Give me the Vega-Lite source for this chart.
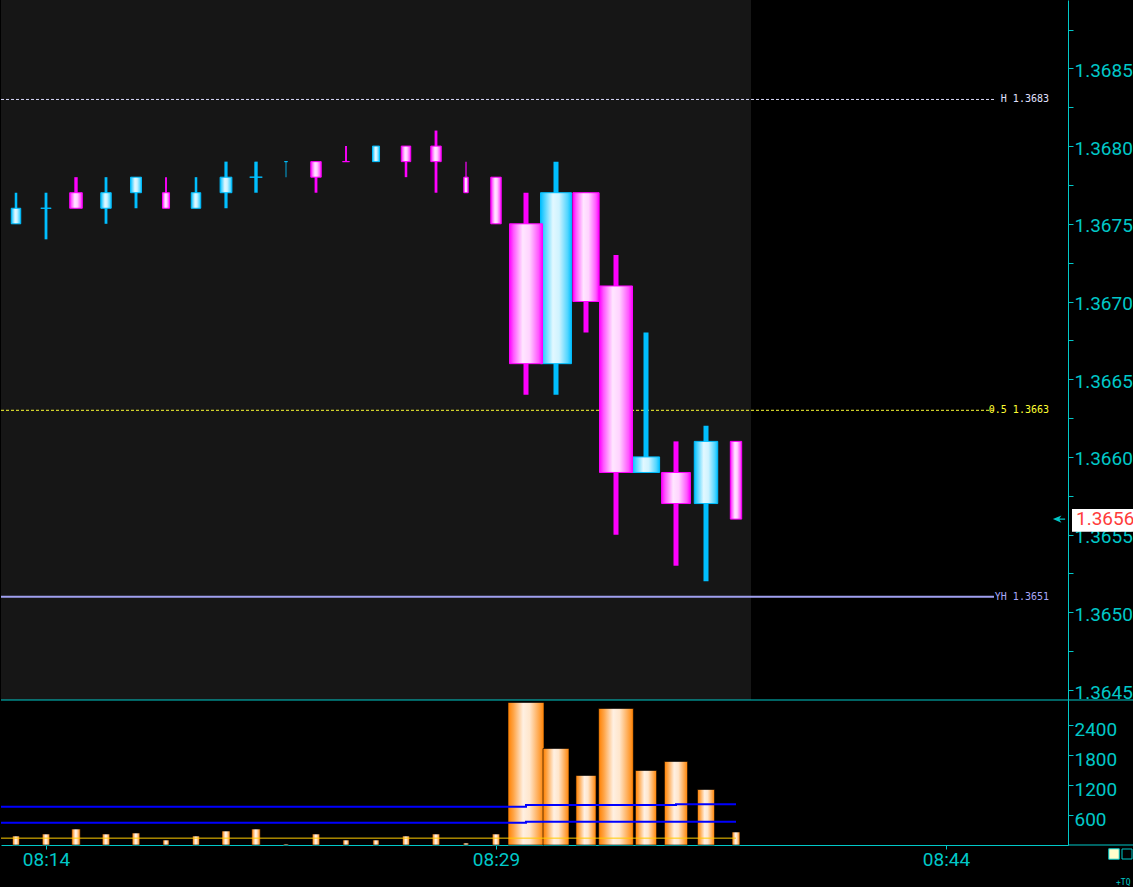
{
  "$schema": "https://vega.github.io/schema/vega-lite/v6.json",
  "background": "#000000",
  "padding": 0,
  "spacing": 0,
  "bounds": "flush",
  "config": {
    "view": {"stroke": null},
    "axis": {"domainColor": "#00c8c8", "tickColor": "#00c8c8", "labelColor": "#00c8c8", "labelFont": "Roboto", "labelFontSize": 19, "grid": false, "domainWidth": 1, "tickWidth": 1}
  },
  "resolve": {"scale": {"size": "independent"}},
  "datasets": {
    "candles": [
      {"t": "2024-01-02T08:13:00", "o": 1.3675, "h": 1.3677, "l": 1.3675, "c": 1.3676, "v": 180},
      {"t": "2024-01-02T08:14:00", "o": 1.3676, "h": 1.3677, "l": 1.3674, "c": 1.3676, "v": 220},
      {"t": "2024-01-02T08:15:00", "o": 1.3677, "h": 1.3678, "l": 1.3676, "c": 1.3676, "v": 320},
      {"t": "2024-01-02T08:16:00", "o": 1.3676, "h": 1.3678, "l": 1.3675, "c": 1.3677, "v": 220},
      {"t": "2024-01-02T08:17:00", "o": 1.3677, "h": 1.3678, "l": 1.3676, "c": 1.3678, "v": 240},
      {"t": "2024-01-02T08:18:00", "o": 1.3677, "h": 1.3678, "l": 1.3676, "c": 1.3676, "v": 100},
      {"t": "2024-01-02T08:19:00", "o": 1.3676, "h": 1.3678, "l": 1.3676, "c": 1.3677, "v": 180},
      {"t": "2024-01-02T08:20:00", "o": 1.3677, "h": 1.3679, "l": 1.3676, "c": 1.3678, "v": 280},
      {"t": "2024-01-02T08:21:00", "o": 1.3678, "h": 1.3679, "l": 1.3677, "c": 1.3678, "v": 320},
      {"t": "2024-01-02T08:22:00", "o": 1.3679, "h": 1.3679, "l": 1.3678, "c": 1.3679, "v": 20},
      {"t": "2024-01-02T08:23:00", "o": 1.3679, "h": 1.3679, "l": 1.3677, "c": 1.3678, "v": 220},
      {"t": "2024-01-02T08:24:00", "o": 1.3679, "h": 1.368, "l": 1.3679, "c": 1.3679, "v": 100},
      {"t": "2024-01-02T08:25:00", "o": 1.3679, "h": 1.368, "l": 1.3679, "c": 1.368, "v": 100},
      {"t": "2024-01-02T08:26:00", "o": 1.368, "h": 1.368, "l": 1.3678, "c": 1.3679, "v": 180},
      {"t": "2024-01-02T08:27:00", "o": 1.368, "h": 1.3681, "l": 1.3677, "c": 1.3679, "v": 220},
      {"t": "2024-01-02T08:28:00", "o": 1.3678, "h": 1.3679, "l": 1.3677, "c": 1.3677, "v": 40},
      {"t": "2024-01-02T08:29:00", "o": 1.3678, "h": 1.3678, "l": 1.3675, "c": 1.3675, "v": 220},
      {"t": "2024-01-02T08:30:00", "o": 1.3675, "h": 1.3677, "l": 1.3664, "c": 1.3666, "v": 2850},
      {"t": "2024-01-02T08:31:00", "o": 1.3666, "h": 1.3679, "l": 1.3664, "c": 1.3677, "v": 1930},
      {"t": "2024-01-02T08:32:00", "o": 1.3677, "h": 1.3677, "l": 1.3668, "c": 1.367, "v": 1390},
      {"t": "2024-01-02T08:33:00", "o": 1.3671, "h": 1.3673, "l": 1.3655, "c": 1.3659, "v": 2730},
      {"t": "2024-01-02T08:34:00", "o": 1.3659, "h": 1.3668, "l": 1.3659, "c": 1.366, "v": 1490},
      {"t": "2024-01-02T08:35:00", "o": 1.3659, "h": 1.3661, "l": 1.3653, "c": 1.3657, "v": 1670},
      {"t": "2024-01-02T08:36:00", "o": 1.3657, "h": 1.3662, "l": 1.3652, "c": 1.3661, "v": 1110},
      {"t": "2024-01-02T08:37:00", "o": 1.3661, "h": 1.3661, "l": 1.3656, "c": 1.3656, "v": 260}
    ],
    "ind": [
      {"t": "2024-01-02T08:12:00", "b1": 767, "b2": 447, "yl": 137},
      {"t": "2024-01-02T08:13:00", "b1": 767, "b2": 447, "yl": 137},
      {"t": "2024-01-02T08:14:00", "b1": 767, "b2": 447, "yl": 137},
      {"t": "2024-01-02T08:15:00", "b1": 767, "b2": 447, "yl": 137},
      {"t": "2024-01-02T08:16:00", "b1": 767, "b2": 447, "yl": 137},
      {"t": "2024-01-02T08:17:00", "b1": 767, "b2": 447, "yl": 137},
      {"t": "2024-01-02T08:18:00", "b1": 767, "b2": 447, "yl": 137},
      {"t": "2024-01-02T08:19:00", "b1": 767, "b2": 447, "yl": 137},
      {"t": "2024-01-02T08:20:00", "b1": 767, "b2": 447, "yl": 137},
      {"t": "2024-01-02T08:21:00", "b1": 767, "b2": 447, "yl": 137},
      {"t": "2024-01-02T08:22:00", "b1": 767, "b2": 447, "yl": 137},
      {"t": "2024-01-02T08:23:00", "b1": 767, "b2": 447, "yl": 137},
      {"t": "2024-01-02T08:24:00", "b1": 767, "b2": 447, "yl": 137},
      {"t": "2024-01-02T08:25:00", "b1": 767, "b2": 447, "yl": 137},
      {"t": "2024-01-02T08:26:00", "b1": 767, "b2": 447, "yl": 137},
      {"t": "2024-01-02T08:27:00", "b1": 767, "b2": 447, "yl": 137},
      {"t": "2024-01-02T08:28:00", "b1": 767, "b2": 447, "yl": 137},
      {"t": "2024-01-02T08:29:00", "b1": 767, "b2": 447, "yl": 137},
      {"t": "2024-01-02T08:30:00", "b1": 800, "b2": 466, "yl": 137},
      {"t": "2024-01-02T08:31:00", "b1": 800, "b2": 466, "yl": 137},
      {"t": "2024-01-02T08:32:00", "b1": 800, "b2": 466, "yl": 137},
      {"t": "2024-01-02T08:33:00", "b1": 800, "b2": 466, "yl": 137},
      {"t": "2024-01-02T08:34:00", "b1": 800, "b2": 466, "yl": 137},
      {"t": "2024-01-02T08:35:00", "b1": 814, "b2": 466, "yl": 137},
      {"t": "2024-01-02T08:36:00", "b1": 814, "b2": 466, "yl": 137},
      {"t": "2024-01-02T08:37:00", "b1": 814, "b2": 466, "yl": 137}
    ],
    "levels": [
      {"name": "H", "price": 1.3683, "label": "H 1.3683"},
      {"name": "0.5", "price": 1.3663, "label": "0.5 1.3663"},
      {"name": "YH", "price": 1.3651, "label": "YH 1.3651"}
    ]
  },
  "vconcat": [
    {
      "width": 1067,
      "height": 700,
      "resolve": {"scale": {"size": "independent"}},
      "layer": [
        {
          "data": {"values": [{}]},
          "mark": {"type": "rect", "color": "#161616"},
          "encoding": {
            "x": {"datum": {"year": 2024, "month": 1, "date": 2, "hours": 8, "minutes": 12, "seconds": 30}, "type": "temporal", "axis": null,
                  "scale": {"domain": [{"year": 2024, "month": 1, "date": 2, "hours": 8, "minutes": 12, "seconds": 30}, {"year": 2024, "month": 1, "date": 2, "hours": 8, "minutes": 48, "seconds": 4}], "nice": false, "padding": 0}},
            "x2": {"datum": {"year": 2024, "month": 1, "date": 2, "hours": 8, "minutes": 37, "seconds": 30}}
          }
        },
        {
          "data": {"name": "levels"},
          "transform": [{"filter": "datum.name != 'YH'"}],
          "mark": {"type": "rule", "strokeDash": [3, 2], "strokeWidth": 1},
          "encoding": {
            "x": {"datum": {"year": 2024, "month": 1, "date": 2, "hours": 8, "minutes": 12, "seconds": 30}, "type": "temporal", "axis": null},
            "x2": {"datum": {"year": 2024, "month": 1, "date": 2, "hours": 8, "minutes": 45, "seconds": 36}},
            "y": {"field": "price", "type": "quantitative", "title": null},
            "color": {"condition": {"test": "datum.name == 'H'", "value": "#d8d8f8"}, "value": "#ffff33"}
          }
        },
        {
          "data": {"name": "levels"},
          "transform": [{"filter": "datum.name == 'YH'"}],
          "mark": {"type": "rule", "strokeWidth": 2, "color": "#a0a0f0"},
          "encoding": {
            "x": {"datum": {"year": 2024, "month": 1, "date": 2, "hours": 8, "minutes": 12, "seconds": 30}, "type": "temporal", "axis": null},
            "x2": {"datum": {"year": 2024, "month": 1, "date": 2, "hours": 8, "minutes": 45, "seconds": 36}},
            "y": {"field": "price", "type": "quantitative", "title": null}
          }
        },
        {
          "data": {"name": "levels"},
          "mark": {"type": "text", "align": "right", "baseline": "middle", "font": "DejaVu Sans Mono", "fontSize": 10},
          "encoding": {
            "x": {"datum": {"year": 2024, "month": 1, "date": 2, "hours": 8, "minutes": 47, "seconds": 26}, "type": "temporal", "axis": null},
            "y": {"field": "price", "type": "quantitative", "title": null},
            "text": {"field": "label"},
            "color": {"condition": [{"test": "datum.name == 'H'", "value": "#e0e0ff"}, {"test": "datum.name == 'YH'", "value": "#a8a8f8"}], "value": "#ffff33"}
          }
        },
        {
          "data": {"values": [{}]},
          "mark": {"type": "rule", "color": "#00c8c8", "strokeWidth": 1},
          "encoding": {
            "x": {"datum": {"year": 2024, "month": 1, "date": 2, "hours": 8, "minutes": 12, "seconds": 30}, "type": "temporal", "axis": null},
            "x2": {"datum": {"year": 2024, "month": 1, "date": 2, "hours": 8, "minutes": 50, "seconds": 16}},
            "y": {"datum": 1.364436, "type": "quantitative", "title": null}
          }
        },
        {
          "data": {"name": "candles"},
          "mark": {"type": "bar"},
          "encoding": {
            "x": {"field": "t", "type": "temporal", "axis": null,
                  "scale": {"domain": [{"year": 2024, "month": 1, "date": 2, "hours": 8, "minutes": 12, "seconds": 30}, {"year": 2024, "month": 1, "date": 2, "hours": 8, "minutes": 48, "seconds": 4}], "nice": false, "padding": 0}},
            "y": {"field": "l", "type": "quantitative", "title": null,
                  "scale": {"domain": [1.364436, 1.36894], "nice": false, "zero": false, "padding": 0},
                  "axis": {"orient": "right", "title": null, "values": [1.3645, 1.36475, 1.365, 1.36525, 1.3655, 1.36575, 1.366, 1.36625, 1.3665, 1.36675, 1.367, 1.36725, 1.3675, 1.36775, 1.368, 1.36825, 1.3685, 1.36875],
                           "labelExpr": "round(datum.value * 20000) % 2 == 0 ? format(datum.value, '.4f') : ''",
                           "tickSize": 5, "labelPadding": 1, "labelOffset": 2, "labelFlush": false, "labelOverlap": false}},
            "y2": {"field": "h"},
            "size": {"field": "v", "type": "quantitative", "legend": null, "scale": {"type": "sqrt", "domain": [0, 700], "range": [0, 5], "clamp": true}},
            "color": {"condition": {"test": "datum.c > datum.o || (datum.c == datum.o && datum.c > datum.l)", "value": "#00bfff"}, "value": "#ff00ff"}
          }
        },
        {
          "data": {"name": "candles"},
          "transform": [{"filter": "datum.c > datum.o || (datum.c == datum.o && datum.c > datum.l)"}],
          "mark": {"type": "bar", "stroke": "#00bfff", "strokeWidth": 1,
                   "fill": {"gradient": "linear", "x1": 0, "y1": 0, "x2": 1, "y2": 0,
                            "stops": [{"offset": 0, "color": "#00bfff"}, {"offset": 0.12, "color": "#45d2ff"}, {"offset": 0.4, "color": "#e2f8ff"}, {"offset": 0.6, "color": "#cff3ff"}, {"offset": 0.88, "color": "#50d5ff"}, {"offset": 1, "color": "#00bfff"}]}},
          "encoding": {
            "x": {"field": "t", "type": "temporal", "axis": null},
            "y": {"field": "o", "type": "quantitative", "title": null},
            "y2": {"field": "c"},
            "size": {"field": "v", "type": "quantitative", "legend": null, "scale": {"type": "sqrt", "domain": [0, 2200], "range": [0, 33], "clamp": true}}
          }
        },
        {
          "data": {"name": "candles"},
          "transform": [{"filter": "!(datum.c > datum.o || (datum.c == datum.o && datum.c > datum.l))"}],
          "mark": {"type": "bar", "stroke": "#ff00ff", "strokeWidth": 1,
                   "fill": {"gradient": "linear", "x1": 0, "y1": 0, "x2": 1, "y2": 0,
                            "stops": [{"offset": 0, "color": "#ff00ff"}, {"offset": 0.12, "color": "#ff55ff"}, {"offset": 0.4, "color": "#ffe6ff"}, {"offset": 0.6, "color": "#ffd4ff"}, {"offset": 0.88, "color": "#ff58ff"}, {"offset": 1, "color": "#ff00ff"}]}},
          "encoding": {
            "x": {"field": "t", "type": "temporal", "axis": null},
            "y": {"field": "o", "type": "quantitative", "title": null},
            "y2": {"field": "c"},
            "size": {"field": "v", "type": "quantitative", "legend": null, "scale": {"type": "sqrt", "domain": [0, 2200], "range": [0, 33], "clamp": true}}
          }
        },
        {
          "data": {"values": [{}]},
          "mark": {"type": "rect", "color": "#ffffff"},
          "encoding": {
            "x": {"datum": {"year": 2024, "month": 1, "date": 2, "hours": 8, "minutes": 48, "seconds": 12}, "type": "temporal", "axis": null},
            "x2": {"datum": {"year": 2024, "month": 1, "date": 2, "hours": 8, "minutes": 50, "seconds": 16}},
            "y": {"datum": 1.365665, "type": "quantitative", "title": null},
            "y2": {"datum": 1.365518}
          }
        },
        {
          "data": {"values": [{}]},
          "mark": {"type": "text", "align": "left", "baseline": "middle", "font": "Roboto", "fontSize": 19, "color": "#ff3b3b", "text": "1.3656"},
          "encoding": {
            "x": {"datum": {"year": 2024, "month": 1, "date": 2, "hours": 8, "minutes": 48, "seconds": 20}, "type": "temporal", "axis": null},
            "y": {"datum": 1.3656, "type": "quantitative", "title": null}
          }
        },
        {
          "data": {"values": [{}]},
          "mark": {"type": "point", "filled": true, "color": "#00c8c8", "opacity": 1, "size": 150, "shape": "M-1,0L0.4,-0.6L0,0L0.4,0.6Z M0,-0.09L1,-0.09L1,0.09L0,0.09Z"},
          "encoding": {
            "x": {"datum": {"year": 2024, "month": 1, "date": 2, "hours": 8, "minutes": 47, "seconds": 46}, "type": "temporal", "axis": null},
            "y": {"datum": 1.3656, "type": "quantitative", "title": null}
          }
        }
      ]
    },
    {
      "width": 1067,
      "height": 145,
      "layer": [
        {
          "data": {"name": "candles"},
          "mark": {"type": "bar", "stroke": "#000000", "strokeWidth": 0.6,
                   "fill": {"gradient": "linear", "x1": 0, "y1": 0, "x2": 1, "y2": 0,
                            "stops": [{"offset": 0, "color": "#ff8000"}, {"offset": 0.15, "color": "#ffa445"}, {"offset": 0.42, "color": "#fff0e2"}, {"offset": 0.6, "color": "#ffe6cc"}, {"offset": 0.9, "color": "#ff9c35"}, {"offset": 1, "color": "#ff8000"}]}},
          "encoding": {
            "x": {"field": "t", "type": "temporal", "title": null,
                  "scale": {"domain": [{"year": 2024, "month": 1, "date": 2, "hours": 8, "minutes": 12, "seconds": 30}, {"year": 2024, "month": 1, "date": 2, "hours": 8, "minutes": 48, "seconds": 4}], "nice": false, "padding": 0},
                  "axis": {"title": null, "format": "%H:%M", "tickSize": 4, "labelPadding": 1, "labelFlush": false, "labelOverlap": false,
                           "values": [{"year": 2024, "month": 1, "date": 2, "hours": 8, "minutes": 14}, {"year": 2024, "month": 1, "date": 2, "hours": 8, "minutes": 29}, {"year": 2024, "month": 1, "date": 2, "hours": 8, "minutes": 44}]}},
            "y": {"field": "v", "type": "quantitative", "title": null,
                  "scale": {"domain": [0, 2900], "nice": false, "padding": 0},
                  "axis": {"orient": "right", "title": null, "values": [600, 1200, 1800, 2400], "format": "d", "tickSize": 5, "labelPadding": 1, "labelOffset": 4, "labelFlush": false, "labelOverlap": false}},
            "size": {"field": "v", "type": "quantitative", "legend": null, "scale": {"type": "linear", "domain": [0, 2850], "range": [5, 36]}}
          }
        },
        {
          "data": {"name": "ind"},
          "mark": {"type": "line", "interpolate": "step-after", "color": "#0000ff", "strokeWidth": 2, "clip": true},
          "encoding": {
            "x": {"field": "t", "type": "temporal", "title": null},
            "y": {"field": "b1", "type": "quantitative", "title": null}
          }
        },
        {
          "data": {"name": "ind"},
          "mark": {"type": "line", "interpolate": "step-after", "color": "#0000ff", "strokeWidth": 2, "clip": true},
          "encoding": {
            "x": {"field": "t", "type": "temporal", "title": null},
            "y": {"field": "b2", "type": "quantitative", "title": null}
          }
        },
        {
          "data": {"name": "ind"},
          "mark": {"type": "line", "interpolate": "step-after", "color": "#ffcc00", "strokeWidth": 1, "clip": true},
          "encoding": {
            "x": {"field": "t", "type": "temporal", "title": null},
            "y": {"field": "yl", "type": "quantitative", "title": null}
          }
        },
        {
          "data": {"values": [{}]},
          "mark": {"type": "rule", "color": "#00c8c8", "strokeWidth": 1},
          "encoding": {
            "x": {"datum": {"year": 2024, "month": 1, "date": 2, "hours": 8, "minutes": 48, "seconds": 4}, "type": "temporal", "title": null},
            "x2": {"datum": {"year": 2024, "month": 1, "date": 2, "hours": 8, "minutes": 50, "seconds": 16}},
            "y": {"datum": 0, "type": "quantitative", "title": null}
          }
        },
        {
          "data": {"values": [{}]},
          "mark": {"type": "point", "shape": "square", "filled": true, "fill": "#ffffcc", "stroke": "#00c8c8", "strokeWidth": 1, "opacity": 1, "size": 110},
          "encoding": {
            "x": {"datum": {"year": 2024, "month": 1, "date": 2, "hours": 8, "minutes": 49, "seconds": 36}, "type": "temporal", "title": null},
            "y": {"datum": -180, "type": "quantitative", "title": null}
          }
        },
        {
          "data": {"values": [{}]},
          "mark": {"type": "point", "shape": "square", "filled": true, "fill": "#000000", "stroke": "#00c8c8", "strokeWidth": 1, "opacity": 1, "size": 100},
          "encoding": {
            "x": {"datum": {"year": 2024, "month": 1, "date": 2, "hours": 8, "minutes": 50, "seconds": 2}, "type": "temporal", "title": null},
            "y": {"datum": -180, "type": "quantitative", "title": null}
          }
        },
        {
          "data": {"values": [{}]},
          "mark": {"type": "text", "align": "left", "baseline": "middle", "font": "DejaVu Sans Mono", "fontSize": 8, "color": "#00c8c8", "text": "+TQ"},
          "encoding": {
            "x": {"datum": {"year": 2024, "month": 1, "date": 2, "hours": 8, "minutes": 49, "seconds": 40}, "type": "temporal", "title": null},
            "y": {"datum": -760, "type": "quantitative", "title": null}
          }
        }
      ]
    }
  ]
}
